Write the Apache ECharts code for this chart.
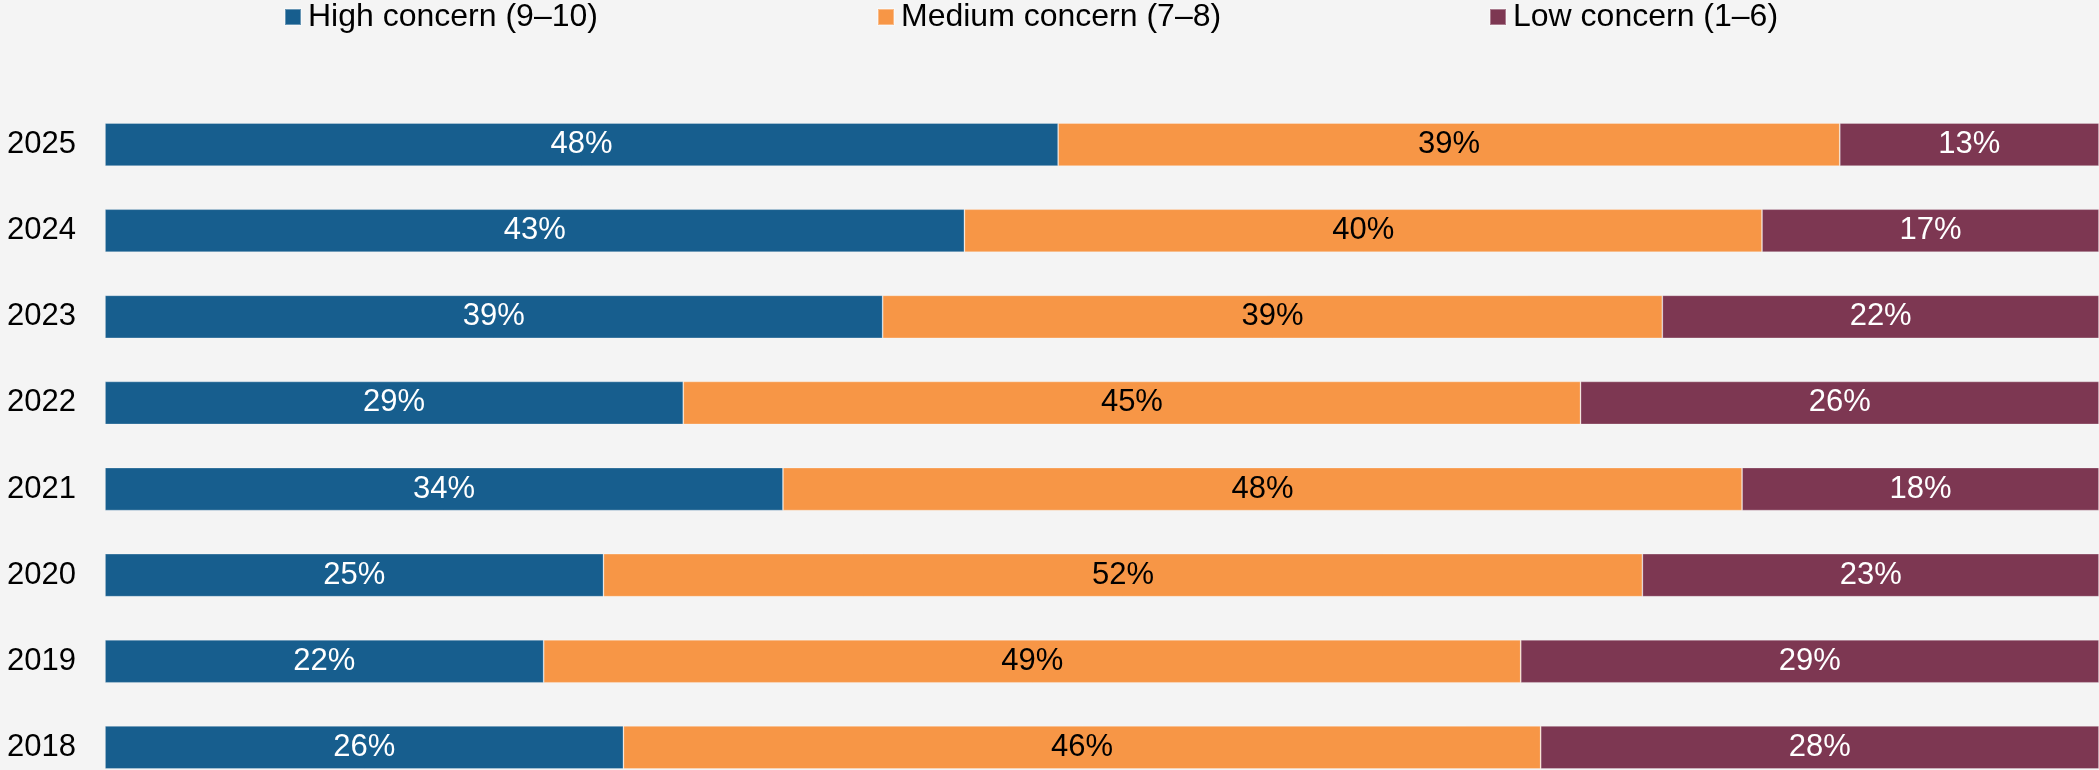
<!DOCTYPE html>
<html>
<head>
<meta charset="utf-8">
<script src="https://cdn.jsdelivr.net/npm/echarts@6/dist/echarts.min.js"></script>
<style>
html,body{margin:0;padding:0;background:#f4f4f4;}
#chart{width:2099px;height:770px;}
</style>
</head>
<body>
<div id="chart"></div>
<script>
const years = ['2025','2024','2023','2022','2021','2020','2019','2018'];
const seriesNames = ['High concern (9–10)','Medium concern (7–8)','Low concern (1–6)'];
const high = [47.8, 43.1, 39.0, 29.0, 34.0, 25.0, 22.0, 26.0];
const medium = [39.2, 40.0, 39.1, 45.0, 48.1, 52.1, 49.0, 46.0];
const low = [13.0, 16.9, 21.9, 26.0, 17.9, 22.9, 29.0, 28.0];
const colors = ['#175e8e', '#f79646', '#7d3752'];
const labelColors = ['#ffffff', '#000000', '#ffffff'];

const FONT = '"Liberation Sans", Arial, sans-serif';
const chart = echarts.init(document.getElementById('chart'));
const values = [high, medium, low];
const legendLeft = [284, 877, 1489];

chart.setOption({
  backgroundColor: '#f4f4f4',
  animation: false,
  legend: seriesNames.map((n, i) => ({
    data: [n],
    left: legendLeft[i],
    top: 1,
    icon: 'rect',
    itemWidth: 16,
    itemHeight: 16,
    itemGap: 0,
    padding: 0,
    textStyle: { fontFamily: FONT, fontSize: 32, color: '#000', padding: [0, 0, 0, 2] }
  })),
  grid: { left: 105, right: 0, top: 101.5, height: 689, containLabel: false, outerBoundsMode: 'none' },
  xAxis: {
    type: 'value', min: 0, max: 100,
    show: false
  },
  yAxis: {
    type: 'category', data: years, inverse: true,
    axisLine: { show: false }, axisTick: { show: false }, splitLine: { show: false },
    axisLabel: { fontFamily: FONT, fontSize: 31, color: '#000', margin: 29 }
  },
  series: seriesNames.map((n, i) => ({
    name: n,
    type: 'bar',
    stack: 'total',
    barWidth: 43,
    data: values[i],
    itemStyle: { color: colors[i], borderColor: 'rgba(255,255,255,0.35)', borderWidth: 0.8 },
    label: {
      show: true, position: 'inside',
      formatter: p => Math.round(p.value) + '%',
      fontFamily: FONT, fontSize: 31, color: labelColors[i]
    }
  }))
});
</script>
</body>
</html>
